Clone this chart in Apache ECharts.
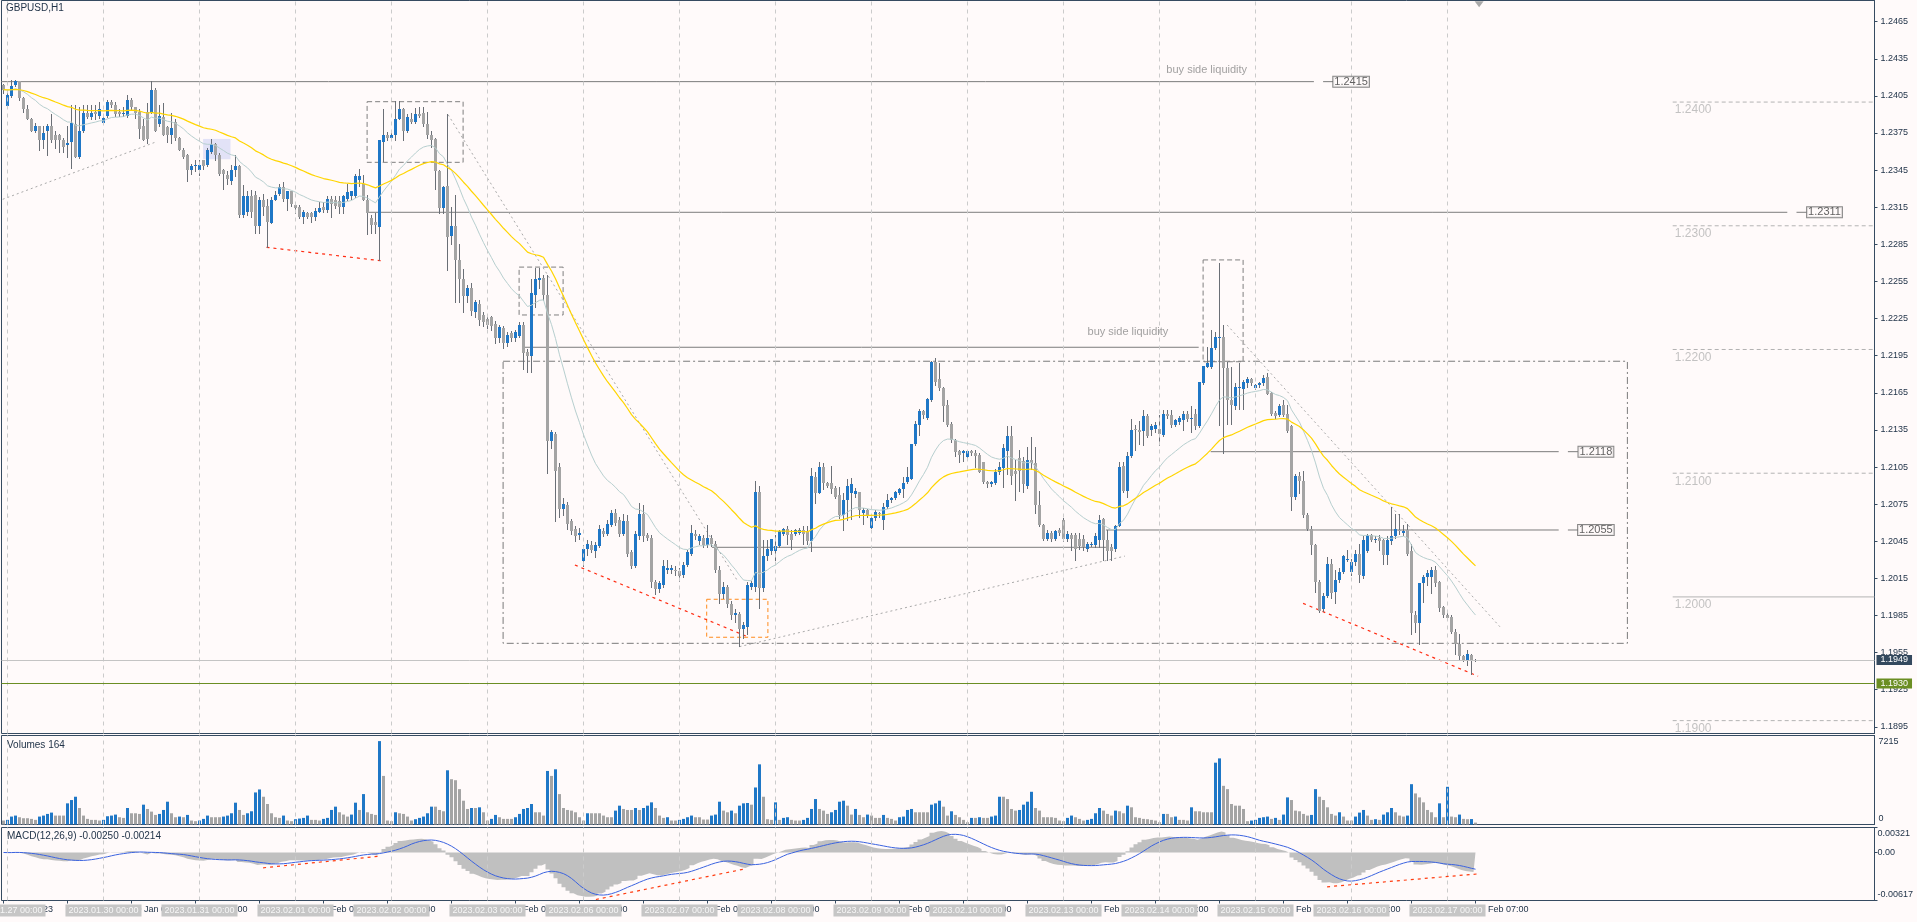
<!DOCTYPE html>
<html><head><meta charset="utf-8">
<script src="https://cdn.jsdelivr.net/npm/echarts/dist/echarts.min.js"></script>
<style>html,body{margin:0;padding:0;background:#fffafa;}#c{width:1917px;height:922px;}</style>
</head><body><div id="c"></div>
<script>
// ---------------- DATA ----------------
const days = ['2023.01.27','2023.01.30','2023.01.31','2023.02.01','2023.02.02','2023.02.03','2023.02.06','2023.02.07','2023.02.08','2023.02.09','2023.02.10','2023.02.13','2023.02.14','2023.02.15','2023.02.16','2023.02.17'];
const firstBarLabel = '26 Jan 2023'; // bar 0 = 2023.01.26 23:00, bar 1 = 2023.01.27 00:00
// [open, close, low, high] hourly bars
const ohlc = [
[1.2414,1.2410,1.2407,1.2415],[1.2397,1.2406,1.2396,1.2408],[1.2405,1.2413,1.2404,1.2418],[1.2414,1.2417,1.2413,1.2418],[1.2417,1.2403,1.2402,1.2417],
[1.2403,1.2394,1.2392,1.2404],[1.2394,1.2386,1.2386,1.2398],[1.2386,1.2377,1.2377,1.2387],[1.2377,1.2381,1.2376,1.2383],[1.2381,1.2369,1.2361,1.2381],
[1.2369,1.2375,1.2363,1.2381],[1.2377,1.2381,1.2357,1.2382],[1.2381,1.2369,1.2368,1.2390],[1.2373,1.2369,1.2363,1.2377],[1.2373,1.2369,1.2360,1.2374],
[1.2369,1.2364,1.2360,1.2371],[1.2365,1.2367,1.2356,1.2381],[1.2368,1.2383,1.2347,1.2398],[1.2382,1.2356,1.2356,1.2398],[1.2356,1.2377,1.2355,1.2396],
[1.2377,1.2391,1.2376,1.2398],[1.2391,1.2388,1.2387,1.2398],[1.2388,1.2391,1.2386,1.2398],[1.2392,1.2390,1.2386,1.2398],[1.2389,1.2394,1.2387,1.2400],
[1.2383,1.2387,1.2382,1.2388],[1.2389,1.2400,1.2388,1.2402],[1.2400,1.2398,1.2396,1.2402],[1.2398,1.2390,1.2389,1.2400],[1.2392,1.2390,1.2389,1.2394],
[1.2390,1.2391,1.2389,1.2396],[1.2389,1.2402,1.2388,1.2406],[1.2402,1.2396,1.2394,1.2403],[1.2396,1.2391,1.2387,1.2396],[1.2392,1.2378,1.2371,1.2394],
[1.2381,1.2369,1.2369,1.2386],[1.2392,1.2370,1.2367,1.2399],[1.2392,1.2410,1.2391,1.2417],[1.2410,1.2377,1.2377,1.2411],[1.2382,1.2389,1.2381,1.2398],
[1.2388,1.2373,1.2373,1.2399],[1.2380,1.2373,1.2368,1.2381],[1.2373,1.2379,1.2367,1.2391],[1.2384,1.2371,1.2369,1.2386],[1.2371,1.2361,1.2361,1.2372],
[1.2361,1.2356,1.2355,1.2363],[1.2357,1.2345,1.2336,1.2358],[1.2345,1.2348,1.2342,1.2350],[1.2348,1.2349,1.2344,1.2353],[1.2345,1.2349,1.2341,1.2353],
[1.2353,1.2348,1.2346,1.2353],[1.2349,1.2361,1.2348,1.2363],[1.2360,1.2366,1.2359,1.2370],[1.2366,1.2357,1.2353,1.2367],[1.2357,1.2342,1.2341,1.2359],
[1.2345,1.2342,1.2330,1.2346],[1.2341,1.2338,1.2334,1.2344],[1.2336,1.2345,1.2334,1.2349],[1.2345,1.2348,1.2340,1.2357],[1.2348,1.2309,1.2307,1.2349],
[1.2309,1.2324,1.2307,1.2333],[1.2311,1.2324,1.2309,1.2328],[1.2324,1.2311,1.2307,1.2329],[1.2325,1.2300,1.2294,1.2328],[1.2300,1.2321,1.2294,1.2323],
[1.2321,1.2315,1.2309,1.2326],[1.2316,1.2303,1.2283,1.2322],[1.2302,1.2321,1.2302,1.2323],[1.2321,1.2325,1.2321,1.2328],[1.2326,1.2331,1.2325,1.2334],
[1.2331,1.2322,1.2320,1.2335],[1.2322,1.2328,1.2313,1.2328],[1.2328,1.2318,1.2316,1.2328],[1.2317,1.2314,1.2310,1.2318],[1.2315,1.2307,1.2306,1.2317],
[1.2307,1.2311,1.2302,1.2313],[1.2310,1.2307,1.2306,1.2311],[1.2310,1.2307,1.2303,1.2311],[1.2307,1.2312,1.2305,1.2314],[1.2311,1.2314,1.2311,1.2319],
[1.2315,1.2313,1.2311,1.2319],[1.2313,1.2322,1.2311,1.2324],[1.2322,1.2318,1.2307,1.2324],[1.2321,1.2316,1.2314,1.2324],[1.2320,1.2315,1.2310,1.2324],
[1.2315,1.2324,1.2310,1.2325],[1.2322,1.2327,1.2321,1.2334],[1.2324,1.2328,1.2322,1.2328],[1.2324,1.2340,1.2323,1.2342],[1.2337,1.2340,1.2332,1.2346],
[1.2334,1.2321,1.2321,1.2341],[1.2321,1.2310,1.2293,1.2325],[1.2306,1.2301,1.2294,1.2309],[1.2303,1.2301,1.2294,1.2310],[1.2299,1.2369,1.2272,1.2369],
[1.2368,1.2373,1.2352,1.2394],[1.2373,1.2371,1.2369,1.2376],[1.2371,1.2373,1.2369,1.2377],[1.2373,1.2386,1.2369,1.2401],[1.2386,1.2394,1.2386,1.2401],
[1.2394,1.2377,1.2369,1.2395],[1.2377,1.2388,1.2376,1.2390],[1.2386,1.2384,1.2383,1.2391],[1.2384,1.2390,1.2383,1.2395],[1.2390,1.2389,1.2388,1.2396],
[1.2391,1.2382,1.2381,1.2396],[1.2382,1.2373,1.2371,1.2392],[1.2373,1.2369,1.2364,1.2377],[1.2370,1.2344,1.2330,1.2371],[1.2344,1.2314,1.2310,1.2345],
[1.2314,1.2331,1.2310,1.2332],[1.2332,1.2291,1.2264,1.2390],[1.2292,1.2300,1.2285,1.2315],[1.2300,1.2272,1.2238,1.2325],[1.2272,1.2257,1.2238,1.2285],
[1.2257,1.2243,1.2230,1.2265],[1.2243,1.2250,1.2238,1.2252],[1.2250,1.2231,1.2228,1.2254],[1.2230,1.2238,1.2226,1.2240],[1.2237,1.2224,1.2220,1.2240],
[1.2228,1.2222,1.2219,1.2230],[1.2225,1.2220,1.2217,1.2227],[1.2226,1.2219,1.2216,1.2227],[1.2221,1.2209,1.2205,1.2223],[1.2209,1.2218,1.2206,1.2220],
[1.2217,1.2205,1.2201,1.2219],[1.2205,1.2212,1.2203,1.2214],[1.2213,1.2209,1.2207,1.2215],[1.2209,1.2214,1.2207,1.2216],[1.2211,1.2220,1.2210,1.2222],
[1.2220,1.2197,1.2184,1.2222],[1.2198,1.2195,1.2182,1.2200],[1.2195,1.2246,1.2182,1.2257],[1.2244,1.2257,1.2234,1.2266],[1.2256,1.2258,1.2250,1.2266],
[1.2258,1.2244,1.2240,1.2260],[1.2244,1.2126,1.2100,1.2260],[1.2126,1.2133,1.2120,1.2135],[1.2132,1.2102,1.2061,1.2133],[1.2105,1.2071,1.2065,1.2108],
[1.2071,1.2075,1.2066,1.2080],[1.2074,1.2059,1.2055,1.2077],[1.2061,1.2053,1.2051,1.2063],[1.2055,1.2049,1.2045,1.2057],[1.2050,1.2052,1.2047,1.2056],
[1.2029,1.2039,1.2025,1.2042],[1.2039,1.2043,1.2034,1.2046],[1.2042,1.2038,1.2036,1.2045],[1.2037,1.2042,1.2032,1.2044],[1.2041,1.2055,1.2040,1.2058],
[1.2053,1.2051,1.2049,1.2056],[1.2051,1.2059,1.2050,1.2062],[1.2058,1.2068,1.2057,1.2070],[1.2068,1.2060,1.2058,1.2071],[1.2062,1.2051,1.2049,1.2065],
[1.2051,1.2061,1.2050,1.2067],[1.2061,1.2035,1.2033,1.2066],[1.2036,1.2025,1.2023,1.2038],[1.2025,1.2051,1.2024,1.2053],[1.2049,1.2067,1.2047,1.2076],
[1.2067,1.2049,1.2045,1.2074],[1.2050,1.2048,1.2046,1.2052],[1.2048,1.2012,1.2008,1.2050],[1.2012,1.2006,1.2002,1.2014],[1.2006,1.2011,1.2004,1.2013],
[1.2010,1.2025,1.2008,1.2030],[1.2022,1.2023,1.2019,1.2030],[1.2022,1.2023,1.2019,1.2026],[1.2022,1.2021,1.2018,1.2025],[1.2021,1.2017,1.2013,1.2023],
[1.2018,1.2026,1.2016,1.2028],[1.2026,1.2036,1.2025,1.2038],[1.2035,1.2052,1.2034,1.2058],[1.2051,1.2049,1.2047,1.2054],[1.2045,1.2049,1.2043,1.2051],
[1.2048,1.2042,1.2040,1.2050],[1.2042,1.2048,1.2040,1.2058],[1.2048,1.2043,1.2041,1.2050],[1.2043,1.2022,1.2020,1.2045],[1.2022,1.2002,1.1995,1.2025],
[1.2002,1.2008,1.1999,1.2012],[1.2008,1.1994,1.1992,1.2010],[1.1994,1.1985,1.1982,1.1997],[1.1985,1.1987,1.1980,1.1990],[1.1986,1.1974,1.1960,1.1988],
[1.1974,1.1977,1.1967,1.1980],[1.1976,1.2010,1.1970,1.2012],[1.2008,1.2011,1.2006,1.2013],[1.2008,1.2085,1.2005,1.2094],[1.2085,1.2007,1.1991,1.2090],
[1.2007,1.2033,1.2005,1.2046],[1.2033,1.2039,1.2030,1.2046],[1.2037,1.2047,1.2035,1.2047],[1.2037,1.2041,1.2030,1.2050],[1.2041,1.2053,1.2040,1.2054],
[1.2051,1.2055,1.2050,1.2056],[1.2055,1.2050,1.2043,1.2057],[1.2051,1.2046,1.2039,1.2054],[1.2051,1.2054,1.2050,1.2055],[1.2052,1.2054,1.2051,1.2056],
[1.2054,1.2051,1.2043,1.2057],[1.2053,1.2045,1.2043,1.2057],[1.2045,1.2098,1.2037,1.2104],[1.2097,1.2084,1.2076,1.2101],[1.2084,1.2105,1.2084,1.2109],
[1.2105,1.2092,1.2087,1.2108],[1.2092,1.2090,1.2089,1.2093],[1.2092,1.2087,1.2084,1.2106],[1.2088,1.2081,1.2080,1.2090],[1.2082,1.2066,1.2064,1.2089],
[1.2066,1.2078,1.2054,1.2084],[1.2078,1.2090,1.2062,1.2095],[1.2084,1.2091,1.2063,1.2096],[1.2083,1.2086,1.2081,1.2088],[1.2085,1.2070,1.2065,1.2085],
[1.2068,1.2070,1.2059,1.2072],[1.2070,1.2066,1.2065,1.2071],[1.2056,1.2064,1.2056,1.2066],[1.2064,1.2069,1.2062,1.2070],[1.2068,1.2067,1.2065,1.2069],
[1.2062,1.2073,1.2055,1.2076],[1.2073,1.2078,1.2072,1.2083],[1.2078,1.2080,1.2077,1.2081],[1.2080,1.2085,1.2079,1.2086],[1.2084,1.2087,1.2083,1.2088],
[1.2087,1.2092,1.2081,1.2097],[1.2093,1.2097,1.2092,1.2105],[1.2095,1.2124,1.2095,1.2124],[1.2124,1.2140,1.2123,1.2142],[1.2139,1.2150,1.2131,1.2152],
[1.2150,1.2147,1.2145,1.2151],[1.2145,1.2160,1.2144,1.2161],[1.2159,1.2190,1.2158,1.2191],[1.2190,1.2174,1.2171,1.2193],[1.2176,1.2169,1.2167,1.2189],
[1.2169,1.2154,1.2142,1.2170],[1.2155,1.2139,1.2138,1.2159],[1.2140,1.2127,1.2125,1.2141],[1.2127,1.2117,1.2114,1.2128],[1.2118,1.2115,1.2109,1.2119],
[1.2116,1.2118,1.2110,1.2119],[1.2113,1.2118,1.2112,1.2119],[1.2118,1.2116,1.2115,1.2119],[1.2116,1.2114,1.2105,1.2119],[1.2115,1.2101,1.2101,1.2116],
[1.2109,1.2093,1.2092,1.2109],[1.2093,1.2091,1.2089,1.2094],[1.2091,1.2093,1.2090,1.2094],[1.2092,1.2101,1.2091,1.2103],[1.2101,1.2105,1.2099,1.2109],
[1.2104,1.2120,1.2089,1.2124],[1.2118,1.2130,1.2099,1.2138],[1.2130,1.2098,1.2091,1.2138],[1.2102,1.2099,1.2078,1.2111],[1.2112,1.2102,1.2086,1.2119],
[1.2110,1.2091,1.2085,1.2113],[1.2090,1.2111,1.2088,1.2121],[1.2111,1.2108,1.2103,1.2129],[1.2108,1.2074,1.2068,1.2121],[1.2074,1.2058,1.2057,1.2086],
[1.2058,1.2047,1.2046,1.2059],[1.2047,1.2052,1.2046,1.2054],[1.2052,1.2047,1.2045,1.2053],[1.2047,1.2053,1.2046,1.2054],[1.2054,1.2052,1.2050,1.2056],
[1.2062,1.2047,1.2045,1.2064],[1.2047,1.2051,1.2045,1.2053],[1.2050,1.2047,1.2038,1.2052],[1.2050,1.2039,1.2030,1.2052],[1.2047,1.2041,1.2039,1.2052],
[1.2047,1.2040,1.2038,1.2050],[1.2039,1.2043,1.2037,1.2044],[1.2042,1.2043,1.2041,1.2044],[1.2042,1.2049,1.2040,1.2052],[1.2046,1.2062,1.2040,1.2066],
[1.2063,1.2046,1.2030,1.2064],[1.2046,1.2037,1.2030,1.2054],[1.2040,1.2037,1.2030,1.2043],[1.2039,1.2057,1.2037,1.2058],[1.2057,1.2105,1.2057,1.2109],
[1.2106,1.2086,1.2085,1.2109],[1.2086,1.2114,1.2081,1.2117],[1.2114,1.2135,1.2113,1.2144],[1.2136,1.2135,1.2119,1.2139],[1.2135,1.2133,1.2124,1.2142],
[1.2134,1.2146,1.2123,1.2151],[1.2146,1.2130,1.2129,1.2148],[1.2135,1.2138,1.2131,1.2140],[1.2136,1.2139,1.2133,1.2141],[1.2136,1.2132,1.2123,1.2147],
[1.2131,1.2148,1.2130,1.2151],[1.2148,1.2146,1.2145,1.2151],[1.2147,1.2139,1.2137,1.2151],[1.2139,1.2143,1.2138,1.2144],[1.2141,1.2145,1.2140,1.2146],
[1.2143,1.2148,1.2135,1.2150],[1.2148,1.2144,1.2142,1.2150],[1.2144,1.2145,1.2133,1.2154],[1.2148,1.2138,1.2136,1.2152],[1.2138,1.2174,1.2137,1.2174],
[1.2173,1.2187,1.2172,1.2187],[1.2186,1.2189,1.2186,1.2202],[1.2186,1.2201,1.2185,1.2216],[1.2201,1.2210,1.2200,1.2214],[1.2209,1.2210,1.2139,1.2270],
[1.2210,1.2185,1.2116,1.2220],[1.2185,1.2159,1.2140,1.2190],[1.2159,1.2155,1.2140,1.2186],[1.2154,1.2170,1.2152,1.2173],[1.2169,1.2170,1.2152,1.2189],
[1.2168,1.2174,1.2152,1.2175],[1.2173,1.2176,1.2170,1.2178],[1.2176,1.2173,1.2171,1.2177],[1.2169,1.2171,1.2168,1.2172],[1.2171,1.2173,1.2170,1.2174],
[1.2173,1.2177,1.2171,1.2179],[1.2178,1.2164,1.2164,1.2181],[1.2165,1.2148,1.2147,1.2166],[1.2149,1.2146,1.2145,1.2150],[1.2147,1.2154,1.2146,1.2156],
[1.2155,1.2147,1.2146,1.2159],[1.2148,1.2134,1.2133,1.2155],[1.2138,1.2081,1.2070,1.2139],[1.2081,1.2098,1.2079,1.2099],[1.2098,1.2094,1.2084,1.2101],
[1.2094,1.2066,1.2065,1.2102],[1.2066,1.2055,1.2054,1.2068],[1.2055,1.2042,1.2035,1.2057],[1.2042,1.2012,1.2004,1.2043],[1.2012,1.1989,1.1988,1.2014],
[1.1990,1.2001,1.1989,1.2003],[1.2001,1.2027,1.2000,1.2032],[1.2027,1.2003,1.1999,1.2031],[1.2004,1.2014,1.1995,1.2022],[1.2014,1.2020,1.2012,1.2023],
[1.2020,1.2033,1.2019,1.2034],[1.2031,1.2031,1.2029,1.2038],[1.2020,1.2028,1.2018,1.2031],[1.2028,1.2035,1.2026,1.2038],[1.2035,1.2018,1.2012,1.2043],
[1.2017,1.2046,1.2015,1.2049],[1.2037,1.2050,1.2036,1.2051],[1.2050,1.2046,1.2045,1.2051],[1.2046,1.2047,1.2044,1.2049],[1.2048,1.2045,1.2038,1.2050],
[1.2046,1.2034,1.2027,1.2047],[1.2034,1.2046,1.2027,1.2049],[1.2045,1.2049,1.2043,1.2073],[1.2049,1.2055,1.2048,1.2067],[1.2054,1.2053,1.2051,1.2067],
[1.2052,1.2053,1.2050,1.2058],[1.2054,1.2035,1.2034,1.2059],[1.2037,1.1987,1.1970,1.2043],[1.1985,1.1979,1.1972,1.1989],[1.1979,1.2011,1.1962,1.2011],
[1.2011,1.2016,1.1996,1.2018],[1.2016,1.2019,1.2010,1.2022],[1.2016,1.2022,1.2003,1.2024],[1.2022,1.2011,1.2009,1.2025],[1.2012,1.1991,1.1989,1.2013],
[1.1992,1.1985,1.1984,1.1993],[1.1985,1.1983,1.1981,1.1989],[1.1984,1.1972,1.1971,1.1985],[1.1972,1.1962,1.1954,1.1974],[1.1962,1.1952,1.1950,1.1970],
[1.1952,1.1949,1.1948,1.1953],[1.1949,1.1954,1.1945,1.1957],[1.1953,1.1949,1.1938,1.1954],[1.1949,1.1949,1.1948,1.1950]
];
const volumes = [
343,400,686,772,629,543,543,486,400,686, 772,915,1030,772,772,772,1830,2116,2402,1430,
772,486,400,400,343,400,715,772,858,629, 572,1430,972,972,915,1716,1344,1115,829,915,
1258,1973,972,629,686,629,829,343,286,343, 486,772,629,629,629,686,772,972,1887,1258,
829,972,1144,2774,3032,2402,1773,972,629,572, 772,343,286,458,515,572,772,400,400,343,
486,572,1258,1544,1058,858,686,858,1888,1258, 2631,1058,915,829,7215,4204,343,286,1058,972,
915,686,343,458,572,686,972,1544,1544,1258, 1144,4690,3918,3832,3060,2059,1344,1430,1430,1487,
1058,343,486,829,629,486,486,486,629,915, 1344,1430,1773,1058,1058,772,4633,4204,4776,2631,
1430,1258,1201,1058,629,343,972,972,972,972, 772,629,629,1201,1630,1344,1258,1258,1430,1258,
1430,1630,1916,1430,772,572,629,343,343,400, 486,629,772,629,629,429,429,772,858,1973,
1201,1058,1201,972,1630,1830,1859,1716,3203,5205, 2402,458,400,1916,400,572,629,400,343,343,
400,572,1344,2202,1344,1201,915,1058,1258,1973, 2059,1630,858,1344,829,629,858,772,572,572,
829,572,486,343,629,686,1258,1344,1058,1058, 1058,1058,1716,1830,2059,1544,772,1144,829,629,
400,200,572,572,629,572,572,686,772,2402, 2402,2202,1344,1201,1258,1716,1973,2831,1430,1201,
629,629,629,572,343,286,572,772,629,486, 343,400,486,972,1430,1201,915,772,1201,1144,
972,1630,1487,629,572,486,458,400,343,200, 915,915,629,686,400,400,343,1487,1144,1144,
1058,1058,1058,5348,5720,3346,3060,1773,1630,1630, 1344,286,343,400,572,629,686,486,572,400,
858,2345,2116,1201,1144,915,772,829,3060,2402, 2116,1487,915,772,1058,686,343,343,686,1030,
1258,772,400,458,400,858,1058,1430,1058,772, 686,772,3489,2688,2345,1916,1258,1058,629,1830,
629,3260,686,629,858,486,458,470,164
];
// axis tick labels
const priceTicks = [1.2465,1.2435,1.2405,1.2375,1.2345,1.2315,1.2285,1.2255,1.2225,1.2195,1.2165,1.2135,1.2105,1.2075,1.2045,1.2015,1.1985,1.1955,1.1925,1.1895];
const volumeTicks = [0, 7215];
const macdTicks = [0.00321, 0, -0.00617];
// chart annotations (bar index, price)
const levels = [ // [fromBar, toBar, price, tag]
  [-1, 327.6, 1.24165, '1.2415'], [90.75, 445.95, 1.23109, '1.2311'],
  [301.8, 388.8, 1.21174, '1.2118'], [275.6, 388.8, 1.20541, '1.2055'],
  [130.2, 298.8, 1.22018, null], [177.1, 275.6, 1.20401, null]
];
const notes = [[300.8, 1.24259, 'buy side liquidity'], [281.1, 1.22144, 'buy side liquidity']];
const rangeBox = [124.9, 405.97, 1.21905, 1.19625];
const dashedBoxes = [[90.9,114.9,1.24003,1.23513],[128.9,139.9,1.22666,1.22279],[299.9,309.9,1.22724,1.21901]];
const orangeBox = [175.8,191.1,1.19981,1.19674];
const shadeBox = [49.9,56.75,1.23702,1.23538];
const redLines = [[65.75,1.22826,94.9,1.22715],[142.85,1.20258,186.05,1.19678],[324.9,1.19948,368.65,1.19359]];
const trendLines = [[-0.2,1.23214,38.3,1.23680],[111.15,1.23898,183.65,1.20122],[184.0,1.19598,280.35,1.20330],[305.9,1.22198,374.1,1.19759]];
const macdLines = [[64.9,-0.00197,93.95,-0.00048],[148.1,-0.00604,185.8,-0.00206],[330.9,-0.00441,368.9,-0.00274]];
const roundLevels = [1.2400,1.2300,1.2200,1.2100,1.2000,1.1900];
const roundStart = 417.3;
const bidPrice = 1.1949, greenLevel = 1.1930;

// ---------------- BUILD ----------------
const FONT = "'Liberation Sans', Arial, sans-serif";
const BLUE = '#1f77c6', GREY = '#a4a4a4', WICK = '#6a6f76', FRAME = '#364b61', TXT = '#23354a';
const XMIN = -0.5, XMAX = 467.75;

const closes = ohlc.map(d => d[1]);
function sma(a, n) { const o = []; let s = 0; for (let i = 0; i < a.length; i++) { s += a[i]; if (i >= n) s -= a[i - n]; o.push(s / Math.min(i + 1, n)); } return o; }
function ema(a, n) { const k = 2 / (n + 1); const o = []; let e = a[0]; for (let i = 0; i < a.length; i++) { e = i === 0 ? a[0] : a[i] * k + e * (1 - k); o.push(e); } return o; }
const ma20 = ema(closes, 20), ma50 = ema(closes, 50);
const e12 = ema(closes, 12), e26 = ema(closes, 26);
const macd = e12.map((v, i) => v - e26[i]);
const signal = sma(macd, 9);

const mon = {'01':'Jan','02':'Feb'};
function barLabel(c) {
  if (c === 0) return firstBarLabel;
  const d = Math.floor((c - 1) / 24), h = (c - 1) % 24;
  const p = days[d].split('.');
  return parseInt(p[2], 10) + ' ' + mon[p[1]] + ' ' + String(h).padStart(2, '0') + ':00';
}
const mtTicks = []; for (let c = 0; c < ohlc.length; c += 16) mtTicks.push(c);
const dayBars = days.map((d, i) => 1 + 24 * i);

const sepLine = { silent: true, symbol: ['none','none'], animation: false, label: { show: false },
  lineStyle: { color: '#cbcbcb', type: [4, 4], width: 1 }, data: dayBars.map(v => ({ xAxis: v })) };

function seg(points, color, type, width, z) {
  return { type: 'line', xAxisIndex: 0, yAxisIndex: 0, data: points, symbol: 'none', silent: true, animation: false,
    lineStyle: { color: color, type: type, width: width || 1 }, z: z || 3 };
}
function rect(b) { return [[b[0], b[2]], [b[1], b[2]], [b[1], b[3]], [b[0], b[3]], [b[0], b[2]]]; }
function priceTag(price, lineColor, tagColor) {
  return { type: 'line', xAxisIndex: 0, yAxisIndex: 0, data: [], symbol: 'none', silent: true, animation: false, z: 6,
    markLine: { silent: true, animation: false, symbol: ['none', 'none'], precision: 4,
      lineStyle: { color: lineColor, type: 'solid', width: 1 },
      label: { show: true, position: 'end', distance: 2, formatter: price.toFixed(4), backgroundColor: tagColor, color: '#ffffff',
        padding: [1, 4, 0, 4], fontSize: 9, fontFamily: FONT },
      data: [{ yAxis: price }] } };
}

const series = [];
// candles
series.push({
  type: 'custom', xAxisIndex: 0, yAxisIndex: 0, clip: true, z: 4, animation: false,
  data: ohlc.map((d, i) => [i, d[0], d[1], d[2], d[3]]),
  encode: { x: 0, y: [1, 2, 3, 4] },
  renderItem: function (params, api) {
    const i = api.value(0), o = api.value(1), c = api.value(2), l = api.value(3), h = api.value(4);
    const pO = api.coord([i, o]), pC = api.coord([i, c]), pL = api.coord([i, l]), pH = api.coord([i, h]);
    const x = Math.round(pO[0] - 0.5) + 0.5;
    const top = Math.round(Math.min(pO[1], pC[1])), bot = Math.round(Math.max(pO[1], pC[1]));
    return { type: 'group', children: [
      { type: 'line', shape: { x1: x, y1: Math.round(pH[1]), x2: x, y2: Math.round(pL[1]) + 1 }, style: { stroke: WICK, lineWidth: 1 } },
      { type: 'rect', shape: { x: x - 1.5, y: top, width: 3, height: Math.max(1, bot - top) }, style: { fill: c >= o ? BLUE : GREY } }
    ]};
  }
});
// moving averages (+ day separators, shift marker)
series.push({ type: 'line', xAxisIndex: 0, yAxisIndex: 0, data: ma20.map((v, i) => [i, v]), symbol: 'none', silent: true, animation: false,
  lineStyle: { color: '#b7cfcf', width: 1 }, z: 5, markLine: sepLine,
  markPoint: { silent: true, animation: false, data: [{ coord: [368.9, 1.2479], symbol: 'triangle', symbolRotate: 180, symbolSize: [9, 6], itemStyle: { color: '#a9a9a9' }, label: { show: false } }] }
});
series.push({ type: 'line', xAxisIndex: 0, yAxisIndex: 0, data: ma50.map((v, i) => [i, v]), symbol: 'none', silent: true, animation: false,
  lineStyle: { color: '#ffd500', width: 1.2 }, z: 5 });
series.push(priceTag(bidPrice, '#c4c4c4', '#34495e'));
series.push(priceTag(greenLevel, '#6b8e23', '#6b8e23'));
// shaded zone
series.push({ type: 'line', xAxisIndex: 0, yAxisIndex: 0, data: [], symbol: 'none', silent: true,
  markArea: { silent: true, itemStyle: { color: 'rgba(190,198,245,0.45)' }, data: [[{ coord: [shadeBox[0], shadeBox[2]] }, { coord: [shadeBox[1], shadeBox[3]] }]] } });
// levels
levels.forEach(l => {
  series.push(seg([[l[0], l[2]], [l[1], l[2]]], '#7c7c7c', 'solid', 1, 3));
  if (l[3]) series.push(seg([[l[1] + 2.3, l[2]], [l[1] + 4.8, l[2]]], '#7c7c7c', 'solid', 1, 3));
});
series.push(seg(rect(rangeBox), '#7a7a7a', [7, 3, 2, 3], 1, 3));
dashedBoxes.forEach(b => series.push(seg(rect(b), '#7f7f7f', [5, 3], 1, 3)));
series.push(seg(rect(orangeBox), '#ff8a1c', [4, 3], 1, 3));
redLines.forEach(r => series.push(seg([[r[0], r[1]], [r[2], r[3]]], '#ff2a10', [3, 4], 1.2, 3)));
trendLines.forEach(r => series.push(seg([[r[0], r[1]], [r[2], r[3]]], '#a9a9a9', [2, 3], 1, 3)));
roundLevels.forEach(p => series.push(seg([[roundStart, p], [XMAX, p]], '#b3b3b3', p === 1.2 ? 'solid' : [4, 3], 1, 2)));
// texts
const textData = [];
notes.forEach(n => textData.push({ value: [n[0], n[1]], label: { show: true, position: 'inside', formatter: n[2], color: '#8a8a8a', fontSize: 11, fontFamily: FONT } }));
levels.forEach(l => { if (l[3]) textData.push({ value: [l[1] + 9.3, l[2]], label: { show: true, position: 'inside', formatter: l[3], color: '#3a3a3a', fontSize: 11, fontFamily: FONT,
  backgroundColor: '#fffafa', borderColor: '#6a6a6a', borderWidth: 1, padding: [0, 1, -1, 1] } }); });
roundLevels.forEach(p => textData.push({ value: [roundStart + 0.4, p], label: { show: true, position: 'right', distance: 0, offset: [0, 8], formatter: p.toFixed(4), color: '#b4b4b4', fontSize: 12, fontFamily: FONT } }));
series.push({ type: 'scatter', xAxisIndex: 0, yAxisIndex: 0, symbolSize: 1, itemStyle: { color: 'rgba(0,0,0,0)' }, silent: true, animation: false, z: 6, data: textData });

// volumes
series.push({ type: 'bar', xAxisIndex: 1, yAxisIndex: 1, barWidth: 3, silent: true, animation: false,
  data: volumes.map((v, i) => ({ value: [i, v], itemStyle: { color: (i > 0 && v > volumes[i - 1]) ? BLUE : GREY } })),
  markLine: sepLine });
// MACD main as stepped histogram area, signal as line
series.push({ type: 'line', xAxisIndex: 2, yAxisIndex: 2, step: 'middle', silent: true, animation: false, symbol: 'none',
  lineStyle: { width: 0, color: '#c0c0c0' }, areaStyle: { color: '#c0c0c0', opacity: 1, origin: 0 },
  data: macd.map((v, i) => [i, v]), markLine: sepLine, z: 2 });
series.push({ type: 'line', xAxisIndex: 2, yAxisIndex: 2, data: signal.map((v, i) => [i, v]), symbol: 'none', silent: true, animation: false,
  lineStyle: { color: '#3b63e0', width: 1 }, z: 4 });
macdLines.forEach(r => series.push({ type: 'line', xAxisIndex: 2, yAxisIndex: 2, data: [[r[0], r[1]], [r[2], r[3]]], symbol: 'none', silent: true, animation: false,
  lineStyle: { color: '#ff3c10', type: [3, 4], width: 1.2 }, z: 5 }));

const hiddenX = (g) => ({ type: 'value', gridIndex: g, min: XMIN, max: XMAX, show: false, axisLine: { onZero: false }, splitLine: { show: false } });
const lbl = { fontFamily: FONT, fontSize: 9, color: TXT };
const gridBase = { left: 1.5, width: 1873, show: true, borderColor: FRAME, borderWidth: 1, backgroundColor: 'transparent', containLabel: false, outerBoundsMode: 'none' };

const option = {
  backgroundColor: '#fffafa',
  animation: false,
  title: [
    { text: 'GBPUSD,H1', left: 6, top: 3, padding: 0, textStyle: { fontSize: 10, fontWeight: 'normal', color: TXT, fontFamily: FONT } },
    { text: 'Volumes 164', left: 7, top: 740, padding: 0, textStyle: { fontSize: 10, fontWeight: 'normal', color: TXT, fontFamily: FONT } },
    { text: 'MACD(12,26,9) -0.00250 -0.00214', left: 7, top: 831, padding: 0, textStyle: { fontSize: 10, fontWeight: 'normal', color: TXT, fontFamily: FONT } }
  ],
  grid: [
    Object.assign({ top: 0.5, height: 733 }, gridBase),
    Object.assign({ top: 735.5, height: 89 }, gridBase),
    Object.assign({ top: 827.5, height: 73 }, gridBase)
  ],
  xAxis: [
    hiddenX(0), hiddenX(1),
    { type: 'value', gridIndex: 2, min: XMIN, max: XMAX, position: 'bottom', z: 1,
      axisLine: { show: false, onZero: false }, splitLine: { show: false },
      axisTick: { show: true, customValues: mtTicks, length: 3, lineStyle: { color: FRAME } },
      axisLabel: Object.assign({ customValues: mtTicks, align: 'left', margin: 5, formatter: v => barLabel(Math.round(v)) }, lbl) },
    { type: 'value', gridIndex: 2, min: XMIN, max: XMAX, position: 'bottom', z: 2,
      axisLine: { show: false, onZero: false }, splitLine: { show: false }, axisTick: { show: false },
      axisLabel: Object.assign({}, lbl, { customValues: dayBars, align: 'center', alignMinLabel: 'center', alignMaxLabel: 'center', margin: 4, color: '#f6f6f6', backgroundColor: '#c6c6c6', padding: [2, 3, 1, 3],
        formatter: v => days[Math.round((v - 1) / 24)] + ' 00:00' }) }
  ],
  yAxis: [
    { type: 'value', gridIndex: 0, position: 'right', min: 1.18896, max: 1.24821, splitLine: { show: false },
      axisLine: { show: true, onZero: false, lineStyle: { color: FRAME } },
      axisTick: { show: true, customValues: priceTicks, length: 3, lineStyle: { color: FRAME } },
      axisLabel: Object.assign({ customValues: priceTicks, margin: 6, formatter: v => v.toFixed(4) }, lbl) },
    { type: 'value', gridIndex: 1, position: 'right', min: 0, max: 7700, splitLine: { show: false },
      axisLine: { show: true, onZero: false, lineStyle: { color: FRAME } },
      axisTick: { show: false },
      axisLabel: Object.assign({ customValues: volumeTicks, margin: 4,
        formatter: v => v === 0 ? '{b|0}' : String(v), rich: { b: { padding: [0, 0, 12, 0], fontFamily: FONT, fontSize: 9, color: TXT } } }, lbl) },
    { type: 'value', gridIndex: 2, position: 'right', min: -0.00617, max: 0.00321, splitLine: { show: false },
      axisLine: { show: true, onZero: false, lineStyle: { color: FRAME } },
      axisTick: { show: true, customValues: macdTicks, length: 3, lineStyle: { color: FRAME } },
      axisLabel: Object.assign({ customValues: macdTicks, margin: 3,
        formatter: v => v > 0.001 ? '{t|0.00321}' : (v < -0.001 ? '{b|-0.00617}' : '0.00'),
        rich: { t: { padding: [12, 0, 0, 0], fontFamily: FONT, fontSize: 9, color: TXT }, b: { padding: [0, 0, 12, 0], fontFamily: FONT, fontSize: 9, color: TXT } } }, lbl) }
  ],
  series: series
};
const chart = echarts.init(document.getElementById('c'), null, { renderer: 'canvas' });
chart.setOption(option);
</script></body></html>
